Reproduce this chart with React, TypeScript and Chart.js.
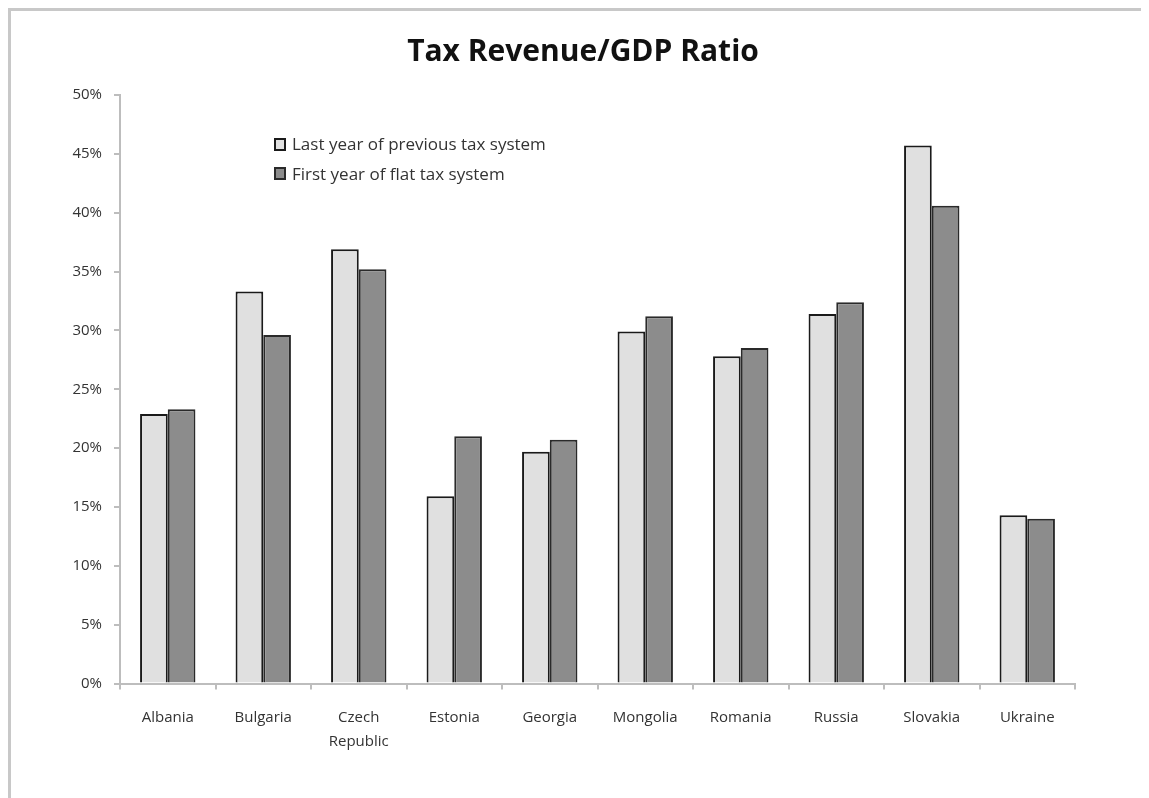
import React, { useEffect, useRef } from "react";
import { Chart, registerables } from "chart.js";

Chart.register(...registerables);

const categories: (string | string[])[] = [
  "Albania",
  "Bulgaria",
  ["Czech", "Republic"],
  "Estonia",
  "Georgia",
  "Mongolia",
  "Romania",
  "Russia",
  "Slovakia",
  "Ukraine",
];

const previousSystem = [22.9, 33.3, 36.9, 15.9, 19.7, 29.9, 27.8, 31.4, 45.7, 14.3];
const flatTaxSystem = [23.3, 29.6, 35.2, 21.0, 20.7, 31.2, 28.5, 32.4, 40.6, 14.0];

const seriesLabels = ["Last year of previous tax system", "First year of flat tax system"];
const titleText = "Tax Revenue/GDP Ratio";

const FONT = "'Open Sans', 'Liberation Sans', sans-serif";

const titlePlugin = {
  id: "centeredTitle",
  afterDraw(chart: any) {
    const ctx = chart.ctx;
    ctx.save();
    ctx.fillStyle = "#111111";
    ctx.font = `bold 30px ${FONT}`;
    ctx.textAlign = "center";
    ctx.textBaseline = "middle";
    ctx.fillText(titleText, 572, 41);
    ctx.restore();
  },
};

const legendPlugin = {
  id: "insideLegend",
  afterDraw(chart: any) {
    const ctx = chart.ctx;
    const rows = [
      { box: [264, 128], text: [281, 134] },
      { box: [264, 157], text: [281, 164] },
    ];
    ctx.save();
    chart.data.datasets.forEach((ds: any, i: number) => {
      const r = rows[i];
      ctx.fillStyle = ds.backgroundColor;
      ctx.strokeStyle = ds.borderColor;
      ctx.lineWidth = 2;
      ctx.fillRect(r.box[0], r.box[1], 10, 11);
      ctx.strokeRect(r.box[0], r.box[1], 10, 11);
      ctx.fillStyle = "#333333";
      ctx.font = `17px ${FONT}`;
      ctx.textAlign = "left";
      ctx.textBaseline = "middle";
      ctx.fillText(ds.label, r.text[0], r.text[1]);
    });
    ctx.restore();
  },
};

export default function App() {
  const canvasRef = useRef<HTMLCanvasElement | null>(null);

  useEffect(() => {
    if (!canvasRef.current) return;
    const chart = new Chart(canvasRef.current, {
      type: "bar",
      data: {
        labels: categories,
        datasets: [
          {
            label: seriesLabels[0],
            data: previousSystem,
            backgroundColor: "#e0e0e0",
            borderColor: "#1a1a1a",
            borderWidth: 2,
            categoryPercentage: 0.58,
            barPercentage: 1.0,
          },
          {
            label: seriesLabels[1],
            data: flatTaxSystem,
            backgroundColor: "#8c8c8c",
            borderColor: "#2a2a2a",
            borderWidth: 2,
            categoryPercentage: 0.58,
            barPercentage: 1.0,
          },
        ],
      },
      options: {
        animation: false,
        responsive: false,
        maintainAspectRatio: false,
        layout: { padding: { left: 0, right: 74, top: 84, bottom: 0 } },
        plugins: {
          legend: { display: false },
          tooltip: { enabled: false },
          title: { display: false },
        },
        scales: {
          x: {
            offset: true,
            grid: {
              display: true,
              drawOnChartArea: false,
              drawTicks: true,
              tickLength: 6,
              color: "#bdbdbd",
              lineWidth: 2,
              offset: true,
            },
            border: { display: true, color: "#bdbdbd", width: 2 },
            ticks: {
              color: "#333333",
              font: { family: FONT, size: 15, lineHeight: 1.6 },
              padding: 16,
              maxRotation: 0,
              autoSkip: false,
            },
            afterFit: (scale: any) => {
              scale.height = 114.5;
            },
          },
          y: {
            min: 0,
            max: 50,
            grid: {
              display: true,
              drawOnChartArea: false,
              drawTicks: true,
              tickLength: 6,
              color: "#bdbdbd",
              lineWidth: 2,
            },
            border: { display: true, color: "#bdbdbd", width: 2 },
            ticks: {
              stepSize: 5,
              color: "#333333",
              font: { family: FONT, size: 15 },
              padding: 12,
              callback: (v: any) => `${v}%`,
            },
            afterFit: (scale: any) => {
              scale.width = 109;
            },
          },
        },
      },
      plugins: [titlePlugin, legendPlugin],
    });
    return () => chart.destroy();
  }, []);

  return (
    <div
      style={{
        position: "relative",
        width: 1141,
        height: 790,
        boxSizing: "border-box",
        borderTop: "3px solid #c8c8c8",
        borderLeft: "3px solid #c8c8c8",
        overflow: "hidden",
      }}
    >
      <canvas ref={canvasRef} width={1138} height={787} style={{ display: "block" }} />
    </div>
  );
}
